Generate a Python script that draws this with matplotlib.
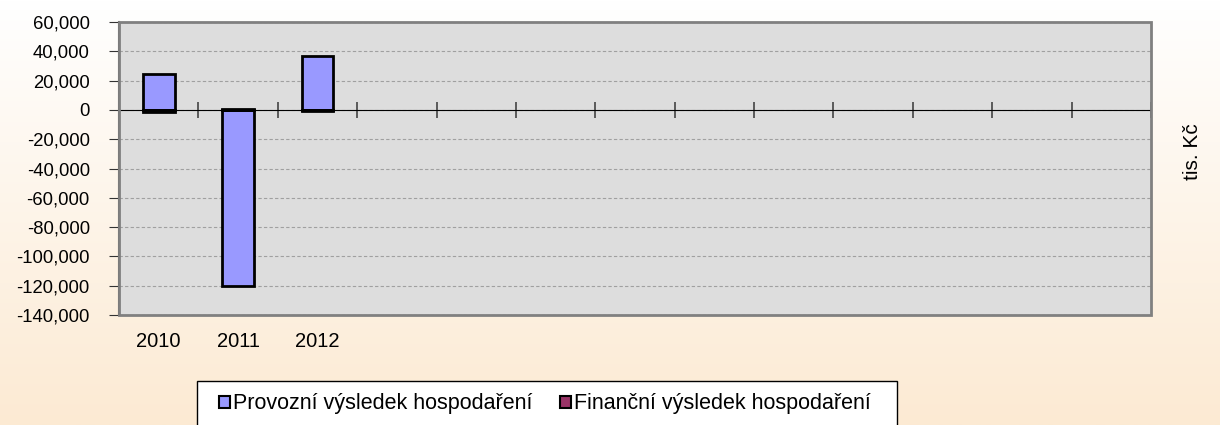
import numpy as np
import matplotlib
matplotlib.use("Agg")
import matplotlib.pyplot as plt
from matplotlib.patches import Rectangle
from matplotlib.colors import LinearSegmentedColormap
from matplotlib.ticker import FuncFormatter

plt.rcParams['font.family'] = ['Liberation Sans', 'DejaVu Sans']

# data (tis. Kč); the axis has 13 category slots, only the first three are filled
years = ["2010", "2011", "2012"]
n_slots = 13
provozni = [24500, -120000, 36500]
financni = [-1500, 300, -500]

fig = plt.figure(figsize=(12.2, 4.25), dpi=100)

# background gradient white -> peach
bg = fig.add_axes([0, 0, 1, 1], zorder=-10)
cmap = LinearSegmentedColormap.from_list("bg", ["#FFFFFF", "#FCEAD3"])
grad = np.linspace(0, 1, 256).reshape(-1, 1)
bg.imshow(grad, aspect="auto", cmap=cmap, extent=[0, 1, 0, 1], origin="upper")
bg.axis("off")

ax = fig.add_axes([119 / 1220, 1 - 315 / 425, (1151 - 119) / 1220, (315 - 22) / 425])
ax.set_facecolor("#DDDDDD")

x = np.arange(len(years))
prov = np.array(provozni)
fin = np.array(financni)
# stacked like Excel: positives stack up from 0, negatives stack down from 0
fin_bottom = np.where(np.sign(fin) == np.sign(prov), prov, 0)
ax.bar(x, prov, width=0.4, color="#9999FF", edgecolor="black", linewidth=2, zorder=3)
ax.bar(x, fin, width=0.4, bottom=fin_bottom, color="#993366", edgecolor="black", linewidth=2, zorder=3)

ax.set_xlim(-0.5, n_slots - 0.5)
ax.set_ylim(-140000, 60000)
ax.set_yticks(np.arange(-140000, 60001, 20000))
ax.yaxis.set_major_formatter(FuncFormatter(lambda v, p: f"{v:,.0f}"))
ax.yaxis.grid(True, color="#A0A0A0", linestyle=(0, (3, 2)), linewidth=0.8)
ax.set_axisbelow(True)
ax.tick_params(axis="y", direction="out", length=7, labelsize=13.3, color="#333333", pad=14)

# zero axis with category boundary ticks
ax.spines["bottom"].set_position(("data", 0))
ax.spines["bottom"].set_color("black")
ax.spines["bottom"].set_zorder(4)
ax.set_xticks(np.arange(0.5, n_slots, 1))
ax.set_xticklabels([])
ax.tick_params(axis="x", direction="inout", length=11, color="#444444", width=1.2)
for s in ["top", "right"]:
    ax.spines[s].set_visible(False)
ax.spines["left"].set_color("#555555")
ax.spines["left"].set_linewidth(1.5)
ax.add_patch(Rectangle((0, 0), 1, 1, transform=ax.transAxes, fill=False,
                       edgecolor="#808080", linewidth=2, zorder=5, clip_on=False))

for i, lab in enumerate(years):
    ax.text(i, -0.09, lab, transform=ax.get_xaxis_transform(), ha="center",
            va="center", fontsize=14.5)

fig.text(1193 / 1220, 1 - 152 / 425, "tis. Kč", rotation=90, ha="center", va="center", fontsize=15)

# legend box
fig.patches.append(Rectangle((197 / 1220, -0.02), 700 / 1220, 0.02 + 44 / 425,
                             transform=fig.transFigure, facecolor="white",
                             edgecolor="black", linewidth=1, zorder=1))
handles = [Rectangle((0, 0), 1, 1, facecolor="#9999FF", edgecolor="black", linewidth=1.5),
           Rectangle((0, 0), 1, 1, facecolor="#993366", edgecolor="black", linewidth=1.5)]
fig.legend(handles, ["Provozní výsledek hospodaření", "Finanční výsledek hospodaření"],
           loc="center", bbox_to_anchor=(545 / 1220, 1 - 404 / 425), ncol=2, frameon=False,
           fontsize=15.5, handlelength=0.5, handleheight=0.5, handletextpad=0.15,
           columnspacing=1.3)

fig.savefig("out.png", dpi=100)
